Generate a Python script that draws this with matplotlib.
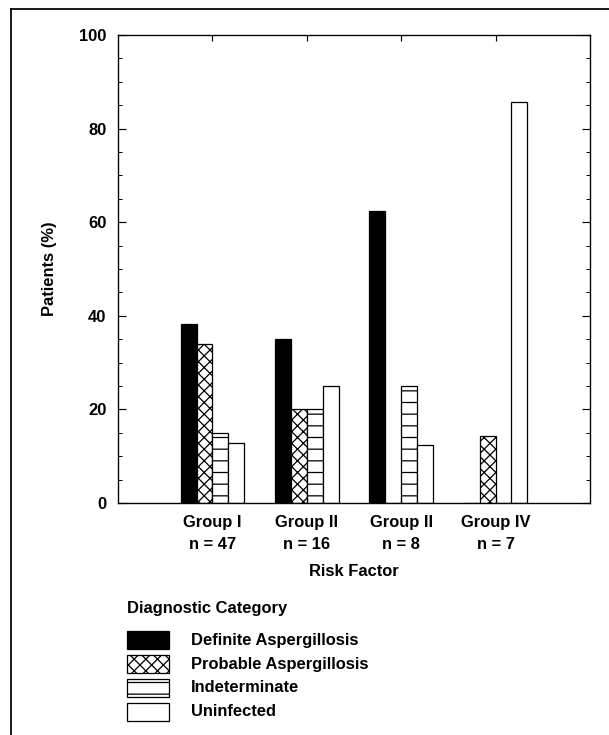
import matplotlib
matplotlib.use("Agg")
import matplotlib.pyplot as plt
from matplotlib.patches import Rectangle
from matplotlib.lines import Line2D
from matplotlib.ticker import MultipleLocator
import numpy as np

groups = ["Group I", "Group II", "Group II", "Group IV"]
group_n = ["n = 47", "n = 16", "n = 8", "n = 7"]
categories = ["Definite Aspergillosis", "Probable Aspergillosis", "Indeterminate", "Uninfected"]
definite = [38.3, 35.0, 62.5, 0.0]
probable = [34.0, 20.0, 0.0, 14.3]
indeterminate = [14.9, 20.0, 25.0, 0.0]
uninfected = [12.8, 25.0, 12.5, 85.7]
y_ticks = [0, 20, 40, 60, 80, 100]

DPI = 70
W, H = 609, 735
plt.rcParams['font.family'] = ['Liberation Sans', 'DejaVu Sans']
plt.rcParams['font.weight'] = 'bold'
plt.rcParams['hatch.linewidth'] = 1.3
plt.rcParams['hatch.color'] = 'black'

fig = plt.figure(figsize=(W / DPI, H / DPI), dpi=DPI)
fs = 17

def fx(px):
    return px / W

def fy(py):
    return 1 - py / H

ax = fig.add_axes([fx(118), fy(503), fx(590) - fx(118), fy(35) - fy(503)])

series = [definite, probable, indeterminate, uninfected]
styles = [dict(facecolor='black', hatch=None),
          dict(facecolor='white', hatch='xx'),
          dict(facecolor='white', hatch='-'),
          dict(facecolor='white', hatch=None)]
x = np.arange(1, len(groups) + 1)
w = 0.168
offsets = [-1.5, -0.5, 0.5, 1.5]
for vals, st, off in zip(series, styles, offsets):
    ax.bar(x + off * w, vals, width=w, edgecolor='black', linewidth=1.3, **st)

ax.set_xlim(0, 5)
ax.set_ylim(0, 100)
ax.set_yticks(y_ticks)
ax.yaxis.set_minor_locator(MultipleLocator(5))
ax.set_xticks(x)
ax.set_xticklabels([f"{g}\n{n}" for g, n in zip(groups, group_n)], fontsize=fs,
                   fontweight='bold', linespacing=1.65)
ax.tick_params(axis='y', which='major', direction='in', length=8, width=1.2,
               left=True, right=True, labelsize=fs, pad=12)
ax.tick_params(axis='y', which='minor', direction='in', length=4, width=1.0,
               left=True, right=True)
ax.tick_params(axis='x', which='major', direction='in', length=6, width=1.2,
               top=True, bottom=True, pad=12)
for sp in ax.spines.values():
    sp.set_linewidth(1.4)

ax.set_xlabel("Risk Factor", fontsize=fs, fontweight='bold', labelpad=12)
ax.set_ylabel("Patients (%)", fontsize=fs, fontweight='bold', labelpad=23)

# Legend (manual)
fig.text(fx(127), fy(608), "Diagnostic Category", fontsize=fs, fontweight='bold',
         ha='left', va='center')
row_centers = [640, 664, 688, 712]
for cat, st, yc in zip(categories, styles, row_centers):
    r = Rectangle((fx(127), fy(yc + 9)), fx(169) - fx(127), fy(yc - 9) - fy(yc + 9),
                  transform=fig.transFigure, edgecolor='black', linewidth=1.3,
                  **st)
    fig.add_artist(r)
    fig.text(fx(191), fy(yc), cat, fontsize=fs, fontweight='bold', ha='left', va='center')

# Outer frame (left and top)
fig.add_artist(Line2D([fx(11), fx(11)], [fy(9), 0], transform=fig.transFigure,
                      color='black', linewidth=1.8))
fig.add_artist(Line2D([fx(11), 1], [fy(9), fy(9)], transform=fig.transFigure,
                      color='black', linewidth=1.8))

fig.savefig("out.png", dpi=DPI)
